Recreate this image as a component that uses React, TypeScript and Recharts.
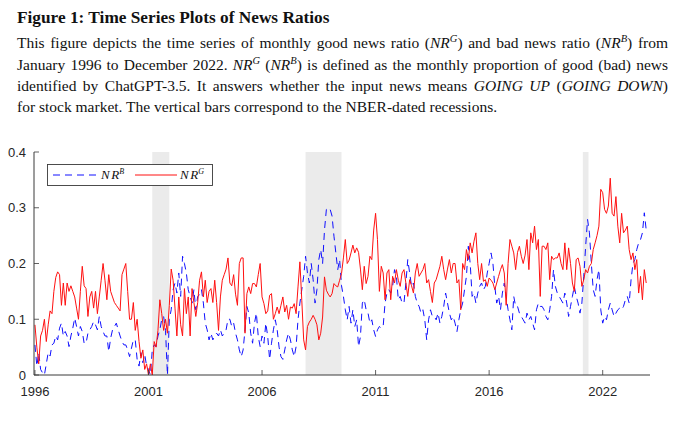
import React from 'react';
import { LineChart, Line, XAxis, YAxis, ReferenceArea, Legend } from 'recharts';

// Monthly bad news ratio NR^B, Jan 1996 - Dec 2022 (one row per year)
const nrB: number[] = [
  0.054, 0.016, 0.04, 0.01, 0.004, 0.0, 0.02, 0.04, 0.034, 0.054, 0.057, 0.07,
  0.063, 0.084, 0.093, 0.07, 0.078, 0.07, 0.051, 0.07, 0.084, 0.102, 0.087, 0.07,
  0.087, 0.078, 0.057, 0.057, 0.075, 0.081, 0.087, 0.096, 0.09, 0.081, 0.105, 0.087,
  0.078, 0.07, 0.07, 0.042, 0.066, 0.081, 0.087, 0.093, 0.081, 0.07, 0.06, 0.054,
  0.054, 0.045, 0.033, 0.048, 0.063, 0.063, 0.028, 0.016, 0.04, 0.022, 0.037, 0.016,
  0.01, 0.0, 0.045, 0.054, 0.051, 0.07, 0.081, 0.1, 0.105, 0.08, 0.0, 0.1,
  0.117, 0.153, 0.165, 0.147, 0.183, 0.141, 0.213, 0.2, 0.183, 0.153, 0.141, 0.129,
  0.153, 0.117, 0.141, 0.144, 0.153, 0.129, 0.093, 0.081, 0.063, 0.075, 0.063, 0.07,
  0.075, 0.07, 0.081, 0.07, 0.075, 0.081, 0.1, 0.1, 0.087, 0.093, 0.075, 0.063,
  0.045, 0.033, 0.045, 0.081, 0.123, 0.111, 0.075, 0.057, 0.093, 0.111, 0.069, 0.051,
  0.07, 0.057, 0.093, 0.069, 0.028, 0.057, 0.081, 0.099, 0.081, 0.05, 0.033, 0.028,
  0.045, 0.063, 0.075, 0.063, 0.045, 0.033, 0.051, 0.099, 0.129, 0.153, 0.177, 0.213,
  0.183, 0.165, 0.2, 0.171, 0.129, 0.153, 0.207, 0.225, 0.2, 0.26, 0.297, 0.3,
  0.297, 0.285, 0.249, 0.219, 0.189, 0.207, 0.16, 0.141, 0.117, 0.099, 0.123, 0.093,
  0.117, 0.087, 0.099, 0.051, 0.069, 0.129, 0.135, 0.117, 0.111, 0.093, 0.099, 0.081,
  0.069, 0.081, 0.087, 0.084, 0.087, 0.129, 0.147, 0.153, 0.147, 0.159, 0.189, 0.177,
  0.135, 0.141, 0.129, 0.129, 0.165, 0.207, 0.183, 0.159, 0.165, 0.141, 0.129, 0.123,
  0.111, 0.117, 0.099, 0.063, 0.099, 0.117, 0.105, 0.105, 0.099, 0.111, 0.093, 0.105,
  0.123, 0.147, 0.129, 0.111, 0.099, 0.105, 0.093, 0.078, 0.099, 0.117, 0.129, 0.153,
  0.177, 0.231, 0.2, 0.141, 0.147, 0.129, 0.147, 0.159, 0.165, 0.153, 0.159, 0.183,
  0.2, 0.219, 0.2, 0.159, 0.129, 0.141, 0.117, 0.147, 0.165, 0.141, 0.117, 0.099,
  0.081, 0.141, 0.123, 0.123, 0.111, 0.105, 0.099, 0.093, 0.111, 0.099, 0.105, 0.093,
  0.081, 0.117, 0.129, 0.123, 0.123, 0.117, 0.105, 0.099, 0.117, 0.141, 0.189, 0.159,
  0.147, 0.141, 0.135, 0.129, 0.147, 0.129, 0.105, 0.123, 0.141, 0.159, 0.141, 0.129,
  0.111, 0.129, 0.177, 0.231, 0.279, 0.255, 0.2, 0.153, 0.141, 0.171, 0.189, 0.117,
  0.093, 0.105, 0.099, 0.117, 0.129, 0.117, 0.105, 0.111, 0.117, 0.12, 0.117, 0.123,
  0.135, 0.141, 0.129, 0.171, 0.2, 0.207, 0.225, 0.237, 0.243, 0.255, 0.291, 0.26,
];

// Monthly good news ratio NR^G, Jan 1996 - Dec 2022 (one row per year)
const nrG: number[] = [
  0.09, 0.05, 0.02, 0.07, 0.08, 0.1, 0.06, 0.09, 0.115, 0.11, 0.15, 0.175,
  0.185, 0.18, 0.125, 0.165, 0.125, 0.165, 0.15, 0.16, 0.15, 0.14, 0.12, 0.1,
  0.15, 0.195, 0.16, 0.155, 0.105, 0.14, 0.15, 0.12, 0.15, 0.11, 0.14, 0.17,
  0.2, 0.17, 0.135, 0.18, 0.15, 0.14, 0.13, 0.125, 0.12, 0.115, 0.18, 0.19,
  0.2, 0.15, 0.1, 0.1, 0.13, 0.08, 0.1, 0.06, 0.03, 0.045, 0.01, 0.02,
  0.0, 0.02, 0.0, 0.06, 0.05, 0.08, 0.135, 0.11, 0.08, 0.1, 0.075, 0.125,
  0.19, 0.17, 0.12, 0.07, 0.14, 0.09, 0.07, 0.155, 0.11, 0.14, 0.07, 0.155,
  0.13, 0.105, 0.13, 0.17, 0.185, 0.14, 0.17, 0.13, 0.15, 0.155, 0.13, 0.17,
  0.13, 0.08, 0.14, 0.17, 0.18, 0.19, 0.21, 0.165, 0.16, 0.18, 0.145, 0.125,
  0.2, 0.21, 0.21, 0.075, 0.146, 0.158, 0.146, 0.164, 0.164, 0.158, 0.18, 0.2,
  0.14, 0.128, 0.11, 0.115, 0.143, 0.146, 0.1, 0.11, 0.122, 0.11, 0.125, 0.14,
  0.113, 0.125, 0.1, 0.122, 0.12, 0.128, 0.11, 0.158, 0.203, 0.134, 0.063, 0.045,
  0.087, 0.095, 0.1, 0.107, 0.1, 0.09, 0.063, 0.075, 0.104, 0.176, 0.152, 0.145,
  0.14, 0.146, 0.164, 0.16, 0.158, 0.17, 0.182, 0.21, 0.243, 0.2, 0.206, 0.219,
  0.233, 0.219, 0.228, 0.22, 0.19, 0.153, 0.195, 0.164, 0.177, 0.213, 0.207, 0.26,
  0.29, 0.243, 0.15, 0.195, 0.183, 0.135, 0.183, 0.189, 0.135, 0.177, 0.165, 0.189,
  0.17, 0.159, 0.183, 0.189, 0.165, 0.141, 0.171, 0.16, 0.147, 0.183, 0.2, 0.177,
  0.183, 0.189, 0.2, 0.165, 0.171, 0.15, 0.13, 0.165, 0.171, 0.183, 0.195, 0.213,
  0.189, 0.171, 0.19, 0.207, 0.183, 0.2, 0.2, 0.165, 0.171, 0.117, 0.2, 0.189,
  0.225, 0.207, 0.237, 0.219, 0.24, 0.255, 0.2, 0.171, 0.2, 0.168, 0.171, 0.159,
  0.174, 0.17, 0.165, 0.153, 0.165, 0.177, 0.189, 0.198, 0.183, 0.125, 0.2, 0.243,
  0.231, 0.219, 0.189, 0.22, 0.231, 0.213, 0.2, 0.215, 0.243, 0.189, 0.255, 0.237,
  0.267, 0.225, 0.243, 0.141, 0.231, 0.231, 0.225, 0.237, 0.171, 0.213, 0.207, 0.21,
  0.21, 0.219, 0.2, 0.189, 0.237, 0.189, 0.228, 0.2, 0.165, 0.15, 0.207, 0.21,
  0.195, 0.159, 0.171, 0.189, 0.183, 0.195, 0.2, 0.225, 0.237, 0.25, 0.267, 0.333,
  0.327, 0.297, 0.29, 0.303, 0.353, 0.29, 0.285, 0.32, 0.267, 0.237, 0.29, 0.255,
  0.26, 0.267, 0.225, 0.207, 0.219, 0.189, 0.207, 0.147, 0.177, 0.135, 0.189, 0.165,
];

const xTicks = [1, 61, 121, 181, 241, 301];
const xTickLabels = ['1996', '2001', '2006', '2011', '2016', '2022'];
const yTicks = [0, 0.1, 0.2, 0.3, 0.4];
const yTickLabels = ['0', '0.1', '0.2', '0.3', '0.4'];
// NBER recessions in month index (1 = Jan 1996)
const recessionStarts = [63, 144, 290.5];
const recessionEnds = [72, 163, 293.5];

const data = nrB.map((b, i) => ({ m: i + 1, nrB: b, nrG: nrG[i] }));

const AX = '#3a3a3a';
const SANS = '"Liberation Sans", Arial, Helvetica, sans-serif';
const SERIF = '"Liberation Serif", "Times New Roman", serif';
const BLUE = '#1010ff';
const RED = '#ff1010';

const BottomTick = (p: any) => {
  const { x, y, payload } = p;
  const idx = xTicks.indexOf(payload.value);
  return (
    <g>
      <line x1={x} x2={x} y1={y} y2={y - 5} stroke={AX} strokeWidth={0.8} />
      <text x={x} y={y + 21} textAnchor="middle" fontFamily={SANS} fontSize={13} fill="#262626">
        {idx >= 0 ? xTickLabels[idx] : ''}
      </text>
    </g>
  );
};
const TopTick = (p: any) => {
  const { x, y } = p;
  return <line x1={x} x2={x} y1={y} y2={y + 5} stroke={AX} strokeWidth={0.8} />;
};
const LeftTick = (p: any) => {
  const { x, y, payload } = p;
  const idx = yTicks.indexOf(payload.value);
  return (
    <g>
      <line x1={x} x2={x + 5} y1={y} y2={y} stroke={AX} strokeWidth={0.8} />
      <text x={x - 8} y={y + 4.6} textAnchor="end" fontFamily={SANS} fontSize={13} fill="#262626">
        {idx >= 0 ? yTickLabels[idx] : ''}
      </text>
    </g>
  );
};
const RightTick = (p: any) => {
  const { x, y } = p;
  return <line x1={x} x2={x - 5} y1={y} y2={y} stroke={AX} strokeWidth={0.8} />;
};

const LegendBox = () => (
  <svg width={167} height={23} style={{ display: 'block' }}>
    <rect x={0.5} y={0.5} width={165} height={21} fill="#fff" stroke={AX} strokeWidth={0.9} />
    <line x1={6} x2={50} y1={11} y2={11} stroke={BLUE} strokeWidth={1} strokeDasharray="7 5" />
    <text x={54} y={15} fontFamily={SERIF} fontStyle="italic" fontSize={13} fill="#111">
      N<tspan dx={1.5}>R</tspan>
      <tspan dy={-5} fontSize={8}>B</tspan>
    </text>
    <line x1={88} x2={130} y1={11} y2={11} stroke={RED} strokeWidth={1} />
    <text x={133} y={15} fontFamily={SERIF} fontStyle="italic" fontSize={13} fill="#111">
      N<tspan dx={1.5}>R</tspan>
      <tspan dy={-5} fontSize={8}>G</tspan>
    </text>
  </svg>
);

const NR = ({ s }: { s: string }) => (
  <span>
    <i>NR</i>
    <span style={{ fontSize: '0.68em', position: 'relative', top: '-0.55em', fontStyle: 'italic' }}>{s}</span>
  </span>
);

const lineStyle: React.CSSProperties = {
  position: 'absolute',
  left: 17,
  width: 651,
  fontFamily: SERIF,
  fontSize: 15.5,
  lineHeight: '21px',
  color: '#111',
  whiteSpace: 'normal',
};

export default function App() {
  return (
    <div style={{ position: 'absolute', left: 0, top: 0, width: 680, height: 426, background: '#fff', overflow: 'hidden' }}>
      <div style={{ position: 'absolute', left: 17, top: 7, fontFamily: SERIF, fontSize: 17.3, fontWeight: 'bold', lineHeight: '22px', color: '#111' }}>
        Figure 1: Time Series Plots of News Ratios
      </div>
      <div style={{ ...lineStyle, top: 32, textAlign: 'justify', textAlignLast: 'justify' }}>
        This figure depicts the time series of monthly good news ratio (<NR s="G" />) and bad news ratio (<NR s="B" />) from
      </div>
      <div style={{ ...lineStyle, top: 54, textAlign: 'justify', textAlignLast: 'justify' }}>
        January 1996 to December 2022. <NR s="G" /> (<NR s="B" />) is defined as the monthly proportion of good (bad) news
      </div>
      <div style={{ ...lineStyle, top: 75, textAlign: 'justify', textAlignLast: 'justify' }}>
        identified by ChatGPT-3.5. It answers whether the input news means <i>GOING UP</i> (<i>GOING DOWN</i>)
      </div>
      <div style={{ ...lineStyle, top: 96 }}>
        for stock market. The vertical bars correspond to the NBER-dated recessions.
      </div>
      <div style={{ position: 'absolute', left: 0, top: 140 }}>
        <LineChart width={680} height={280} data={data} margin={{ top: 12, right: 30, bottom: 15, left: 4 }}>
          <XAxis
            dataKey="m"
            type="number"
            domain={[0.5, 326]}
            allowDataOverflow
            ticks={xTicks}
            interval={0}
            tickSize={0}
            tickMargin={0}
            tickLine={false}
            tick={<BottomTick />}
            axisLine={{ stroke: AX, strokeWidth: 1 }}
            height={30}
          />
          <XAxis
            xAxisId="top"
            orientation="top"
            type="number"
            domain={[0.5, 326]}
            allowDataOverflow
            ticks={xTicks}
            interval={0}
            tickSize={0}
            tickMargin={0}
            tickLine={false}
            tick={<TopTick />}
            axisLine={{ stroke: AX, strokeWidth: 1 }}
            height={0}
          />
          <YAxis
            type="number"
            domain={[0, 0.4]}
            allowDataOverflow
            ticks={yTicks}
            interval={0}
            tickSize={0}
            tickMargin={0}
            tickLine={false}
            tick={<LeftTick />}
            axisLine={{ stroke: AX, strokeWidth: 1 }}
            width={30}
          />
          <YAxis
            yAxisId="right"
            orientation="right"
            type="number"
            domain={[0, 0.4]}
            allowDataOverflow
            ticks={yTicks}
            interval={0}
            tickSize={0}
            tickMargin={0}
            tickLine={false}
            tick={<RightTick />}
            axisLine={{ stroke: AX, strokeWidth: 1 }}
            width={0}
          />
          {recessionStarts.map((s, i) => (
            <ReferenceArea key={i} x1={s} x2={recessionEnds[i]} fill="#ebebeb" fillOpacity={1} stroke="none" ifOverflow="hidden" />
          ))}
          <Line type="linear" dataKey="nrB" stroke={BLUE} strokeWidth={1} strokeDasharray="7 5" dot={false} isAnimationActive={false} />
          <Line type="linear" dataKey="nrG" stroke={RED} strokeWidth={1} dot={false} isAnimationActive={false} />
          <Legend
            layout="horizontal"
            verticalAlign="middle"
            align="center"
            content={() => <LegendBox />}
            wrapperStyle={{ position: 'absolute', left: 47, top: 24, width: 167, height: 23 }}
          />
        </LineChart>
      </div>
    </div>
  );
}
